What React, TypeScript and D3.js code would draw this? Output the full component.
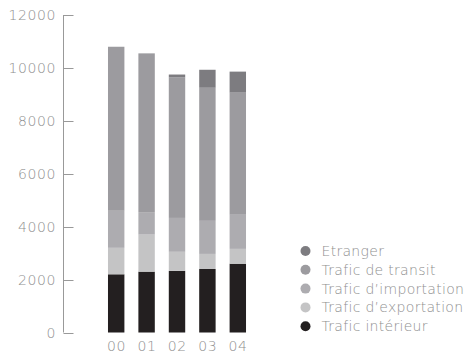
import React from "react";
import * as d3 from "d3";

const years = ["00", "01", "02", "03", "04"];
const interieur = [2200, 2300, 2330, 2400, 2600];
const exportation = [1000, 1400, 720, 570, 560];
const importation = [1400, 850, 1280, 1250, 1290];
const transit = [6200, 6000, 5320, 5030, 4615];
const etranger = [0, 0, 100, 680, 795];
const yTicks = [0, 2000, 4000, 6000, 8000, 10000, 12000];

const seriesKeys = ["interieur", "exportation", "importation", "transit", "etranger"];
const seriesLabels: Record<string, string> = {
  interieur: "Trafic intérieur",
  exportation: "Trafic d’exportation",
  importation: "Trafic d’importation",
  transit: "Trafic de transit",
  etranger: "Etranger",
};
const colors: Record<string, string> = {
  interieur: "#231f20",
  exportation: "#c4c4c5",
  importation: "#adacb0",
  transit: "#9c9b9f",
  etranger: "#7d7c80",
};

const W = 470;
const H = 358;
const textColor = "#8f8f8f";
const font = "'DejaVu Sans', sans-serif";

export default function App() {
  const rows = years.map((y, i) => ({
    year: y,
    interieur: interieur[i],
    exportation: exportation[i],
    importation: importation[i],
    transit: transit[i],
    etranger: etranger[i],
  }));
  const stack = d3.stack<any>().keys(seriesKeys)(rows);

  const y = d3.scaleLinear().domain([0, 12000]).range([332.5, 15]);
  const x = d3.scaleBand().domain(years).range([94, 260]).paddingInner(0.46).paddingOuter(0.46);

  const axisX = 63.5;
  const legendOrder = ["etranger", "transit", "importation", "exportation", "interieur"];

  return (
    <svg width={W} height={H} style={{ position: "absolute", left: 0, top: 0, background: "#fff" }}>
      <g>
        <line x1={axisX} x2={axisX} y1={y(12000)} y2={y(0)} stroke="#999" strokeWidth={1} />
        {yTicks.map((t) => (
          <g key={t}>
            <line x1={axisX} x2={axisX + 10} y1={Math.round(y(t)) + 0.5} y2={Math.round(y(t)) + 0.5} stroke="#999" strokeWidth={1} />
            <text x={56} y={y(t)} dy="0.36em" textAnchor="end" fontFamily={font} fontSize={14} fill={textColor} fontWeight={200} letterSpacing={0.6}>
              {t}
            </text>
          </g>
        ))}
      </g>
      {stack.map((s) => (
        <g key={s.key} fill={colors[s.key]}>
          {s.map((d, i) => {
            const h = y(d[0]) - y(d[1]);
            if (h <= 0) return null;
            return <rect key={i} x={x(years[i])} y={y(d[1])} width={x.bandwidth()} height={h} />;
          })}
        </g>
      ))}
      {years.map((yr) => (
        <text key={yr} x={(x(yr) as number) + x.bandwidth() / 2 + 0.3} y={351} textAnchor="middle" fontFamily={font} fontSize={14} fill={textColor} fontWeight={200} letterSpacing={0.6}>
          {yr}
        </text>
      ))}
      {legendOrder.map((k, i) => {
        const cy = 251 + i * 18.8;
        return (
          <g key={k}>
            <circle cx={305.5} cy={cy} r={5} fill={colors[k]} />
            <text x={321.5} y={cy} dy="0.36em" fontFamily={font} fontSize={14} fill={textColor} fontWeight={200} letterSpacing={0.3}>
              {seriesLabels[k]}
            </text>
          </g>
        );
      })}
    </svg>
  );
}
